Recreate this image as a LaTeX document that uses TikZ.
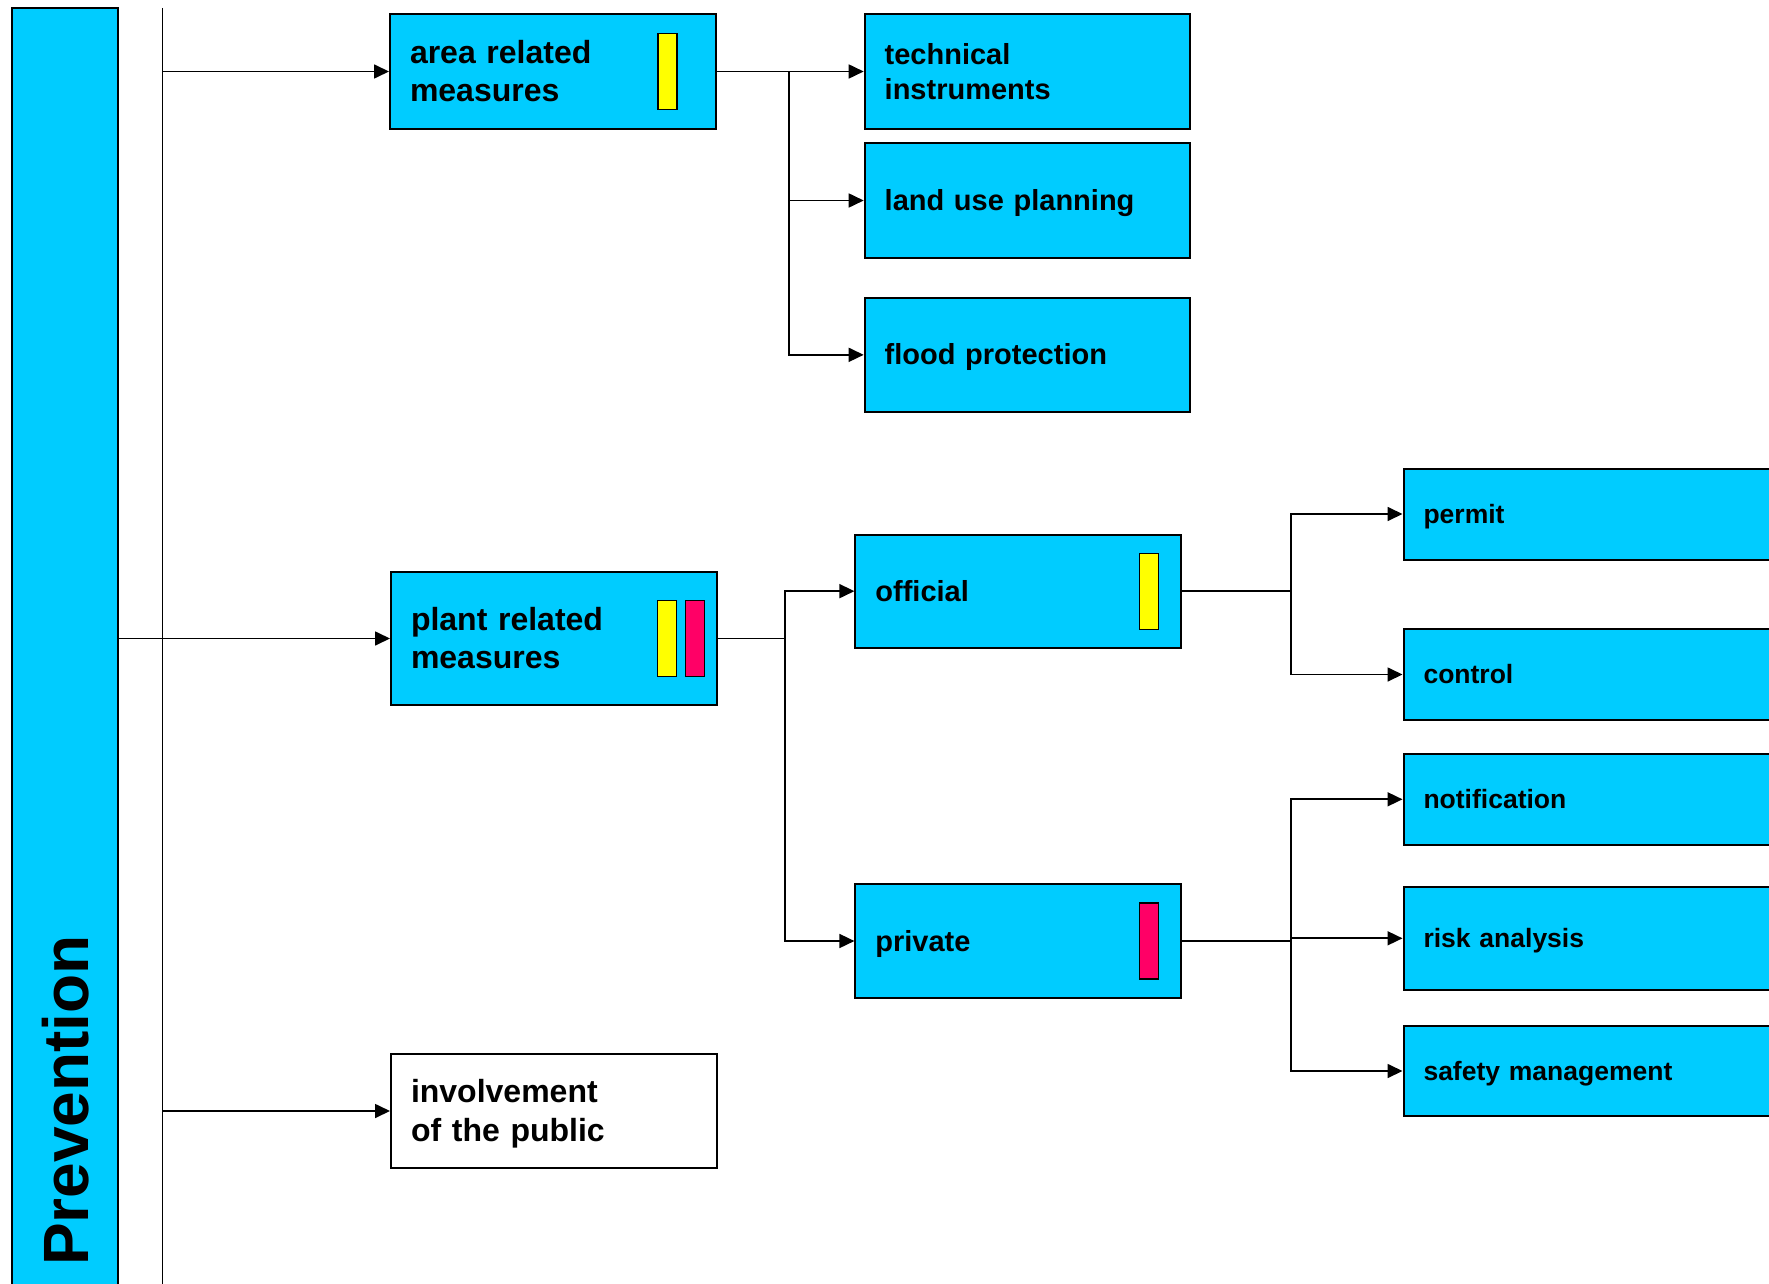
\documentclass[tikz,border=0pt]{standalone}
\usepackage{fontspec}
\setmainfont{Liberation Sans}
\usetikzlibrary{positioning,calc,arrows.meta}
\definecolor{mycyan}{RGB}{0,204,255}
\definecolor{myyellow}{RGB}{255,255,0}
\definecolor{myred}{RGB}{255,0,102}
\newcommand{\boxstrut}{\rule[-0.212em]{0pt}{1.117em}}

\begin{document}
\begin{tikzpicture}[x=1pt,y=-1pt,
  box/.style={draw,line width=2pt,fill=mycyan,anchor=north west,
  inner xsep=20pt,inner ysep=0pt,align=left,
  execute at begin node=\boxstrut,execute at end node=\boxstrut},
  lbox/.style={box,text width=285.5pt,font=\bfseries\fontsize{32}{38.4}\selectfont},
  mbox/.style={box,text width=285.5pt,font=\bfseries\fontsize{29}{35}\selectfont},
  rbox/.style={box,text width=360pt,font=\bfseries\fontsize{26.5}{32}\selectfont},
  tag/.style={draw,line width=1.2pt,minimum width=19pt,minimum height=76pt,inner sep=0pt},
  con/.style={line width=1.7pt},
  arr/.style={con,-{Triangle[length=15pt,width=14pt]}}]

  \useasboundingbox (0,0) rectangle (1769,1284);
  \clip (0,0) rectangle (1769,1284);

  % left bar and spine
  \node[draw,line width=2pt,fill=mycyan,anchor=north west,inner sep=0pt,
    minimum width=106pt,minimum height=1300pt] (bar) at (11,7.5) {};
  \node[rotate=90,anchor=base west,inner sep=0pt,
    font=\bfseries\fontsize{64}{77}\selectfont] (prev) at (88.3,1266) {Prevention};
  \coordinate (vtop) at (162.5,8);
  \coordinate (vbot) at (162.5,1290);

  % first level
  \node[lbox,minimum height=114.4pt] (area) at (389,13.3) {area related\\measures};
  \node[lbox,minimum height=133pt] (plant) at (390,571) {plant related\\measures};
  \node[lbox,fill=white,minimum height=114pt] (inv) at (390,1053) {involvement\\of the public};
  \node[tag,fill=myyellow,left=39pt of area.east] (area-y) {};
  \node[tag,fill=myyellow,left=40.7pt of plant.east] (plant-y) {};
  \node[tag,fill=myred,left=12.3pt of plant.east] (plant-r) {};

  % second level
  \node[mbox,minimum height=114.4pt] (tech) at (863.7,13.3) {technical\\instruments};
  \node[mbox,minimum height=114.4pt] (land) at (863.7,142.3) {land use planning};
  \node[mbox,minimum height=114.3pt] (flood) at (863.7,296.7) {flood protection};
  \node[mbox,minimum height=113.3pt] (official) at (854.4,533.5) {official};
  \node[mbox,minimum height=114pt] (private) at (854.4,883) {private};
  \node[tag,fill=myyellow,left=22.7pt of official.east] (official-y) {};
  \node[tag,fill=myred,left=22.7pt of private.east] (private-r) {};

  % third level
  \node[rbox,minimum height=91pt] (permit) at (1402.5,467.5) {permit};
  \node[rbox,minimum height=91pt] (control) at (1402.5,628) {control};
  \node[rbox,minimum height=90.6pt] (notif) at (1402.5,753) {notification};
  \node[rbox,minimum height=103.4pt] (risk) at (1402.5,885.6) {risk analysis};
  \node[rbox,minimum height=90pt] (safety) at (1402.5,1025) {safety management};

  % branch points
  \coordinate (abr) at (789,0);
  \coordinate (pbr) at (785,0);
  \coordinate (obr) at (1290.7,0);

  \draw[con] (vtop) -- (vbot);
  \draw[arr] (vtop |- area.west) -- (area.west);
  \draw[arr] (bar.east |- plant.west) -- (plant.west);
  \draw[arr] (vtop |- inv.west) -- (inv.west);

  \draw[arr] (area.east) -- (tech.west);
  \draw[arr] (abr |- area.east) |- (land.west);
  \draw[arr] (abr |- area.east) |- (flood.west);

  \draw[con] (plant.east) -- (pbr |- plant.east);
  \draw[arr] (pbr |- plant.east) |- (official.west);
  \draw[arr] (pbr |- plant.east) |- (private.west);

  \draw[con] (official.east) -- (obr |- official.east);
  \draw[arr] (obr |- official.east) |- (permit.west);
  \draw[arr] (obr |- official.east) |- (control.west);

  \draw[con] (private.east) -- (obr |- private.east);
  \draw[arr] (obr |- private.east) |- (notif.west);
  \draw[arr] (obr |- private.east) |- (risk.west);
  \draw[arr] (obr |- private.east) |- (safety.west);
\end{tikzpicture}
\end{document}
